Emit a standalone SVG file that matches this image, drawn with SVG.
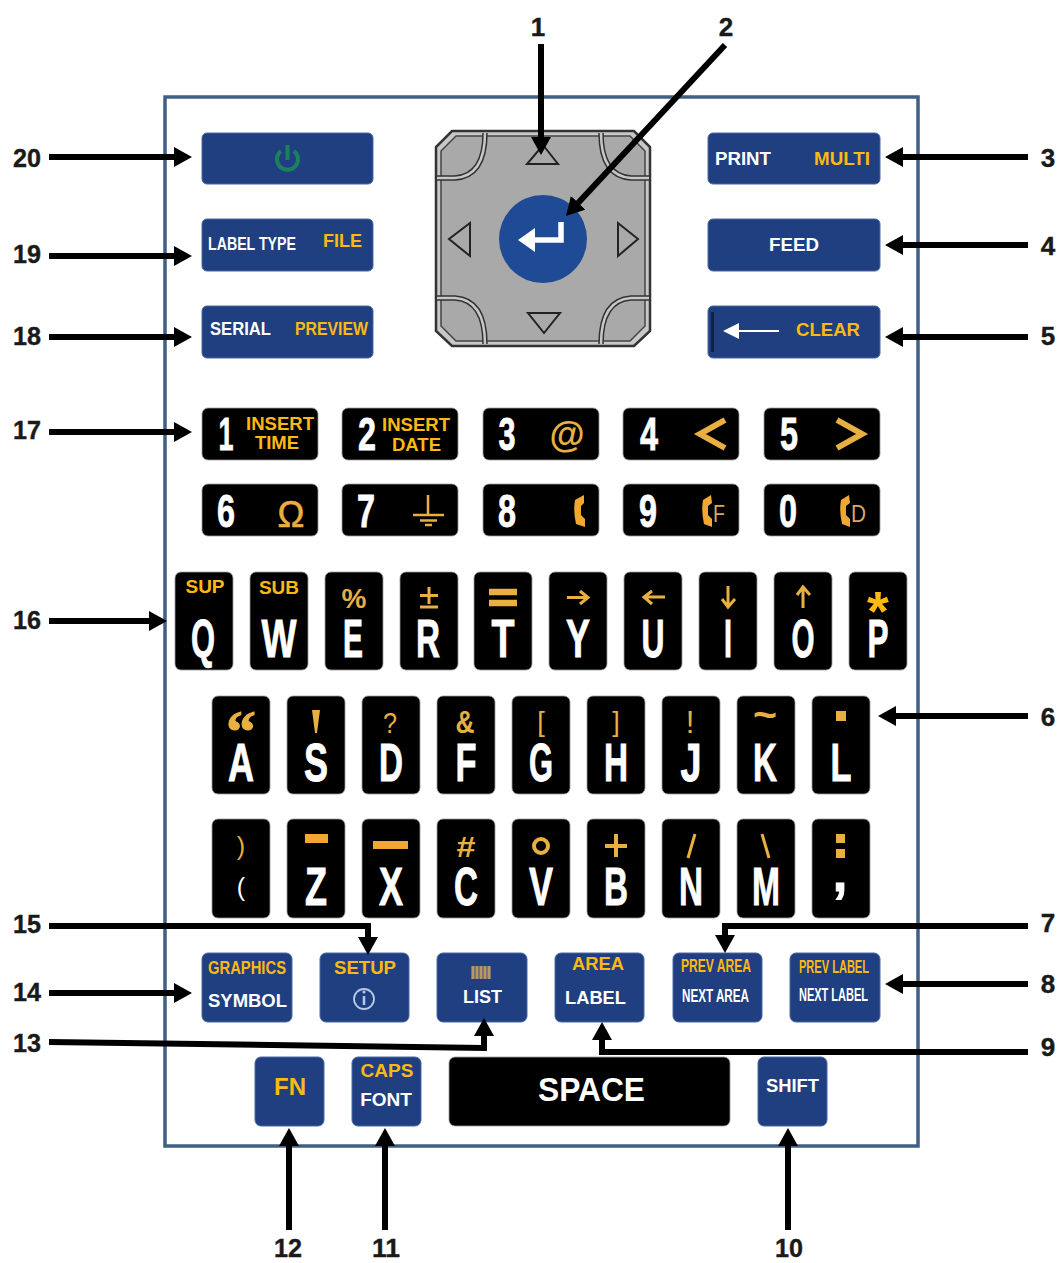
<svg xmlns="http://www.w3.org/2000/svg" width="1059" height="1263" viewBox="0 0 1059 1263">
<style>
text{font-family:"Liberation Sans",Arial,sans-serif;font-weight:700}
.b{fill:#1f3f80;stroke:#4a68a5;stroke-width:1}
.k{fill:#000;stroke:#999;stroke-width:.8}
.w{fill:#fff}.y{fill:#fdb913}.g{fill:#e8b040}
.c{text-anchor:middle}
.n{font-size:26px;fill:#1a1a1a;text-anchor:middle;stroke:#1a1a1a;stroke-width:.4}
.L{font-size:54px;fill:#fff;stroke:#fff;stroke-width:.9;text-anchor:middle}
.D{font-size:46px;fill:#fff;stroke:#fff;stroke-width:.8;text-anchor:middle}
.s{font-size:19px}
.t{font-size:19px}
.o{fill:none;stroke:#e8b040}
.a{fill:none;stroke:#000;stroke-width:6}
.r{font-weight:400}
</style>
<defs>
<marker id="h" markerUnits="userSpaceOnUse" markerWidth="18" markerHeight="20" refX="4" refY="10" orient="auto"><path d="M0 0L18 10L0 20Z" fill="#000"/></marker>
</defs>
<rect width="1059" height="1263" fill="#fff"/>
<rect id="frame" x="165" y="97" width="753" height="1049" fill="none" stroke="#3f5f85" stroke-width="3.5"/>

<g id="dpad">
<path d="M452 131H634L650 147V331L634 346H452L436 331V147Z" fill="#c8c8c8" stroke="#333" stroke-width="2.5"/>
<path d="M456 136H630L645 151V326L630 341H456L441 326V151Z" fill="#a9a9a9" stroke="#444" stroke-width="1.5"/>
<path d="M437 178H455Q485 176 485 133M649 178H631Q601 176 601 133M437 298H455Q485 300 485 344M649 298H631Q601 300 601 344" fill="none" stroke="#333" stroke-width="5.5"/>
<path d="M437 178H455Q485 176 485 133M649 178H631Q601 176 601 133M437 298H455Q485 300 485 344M649 298H631Q601 300 601 344" fill="none" stroke="#c8c8c8" stroke-width="2.500"/>
<path d="M543 145L558 164H527ZM528 313H560L544 333ZM470 223V256L449 239ZM618 223V256L638 239Z" fill="none" stroke="#222" stroke-width="2"/>
<circle cx="543" cy="239" r="44" fill="#1f4a96"/>
<path d="M561 222V240H527" fill="none" stroke="#fff" stroke-width="5.500"/>
<path d="M518 240L535 228V252Z" fill="#fff"/>
</g>

<g id="key-power"><rect class="b" x="202" y="133" width="171" height="51" rx="5"/><path d="M281 151A10.500 10.500 0 1 0 294 151" fill="none" stroke="#1c8060" stroke-width="4"/><path d="M287.500 145V160" stroke="#1c8060" stroke-width="4"/></g>
<g id="key-labeltype"><rect class="b" x="202" y="219" width="171" height="52" rx="5"/><text class="w s" x="208" y="250" textLength="88" lengthAdjust="spacingAndGlyphs">LABEL TYPE</text><text class="y s" x="323" y="247" textLength="39" lengthAdjust="spacingAndGlyphs">FILE</text></g>
<g id="key-serial"><rect class="b" x="202" y="306" width="171" height="52" rx="5"/><text class="w s" x="210" y="335" textLength="61" lengthAdjust="spacingAndGlyphs">SERIAL</text><text class="y s" x="295" y="335" textLength="73" lengthAdjust="spacingAndGlyphs">PREVIEW</text></g>
<g id="key-print"><rect class="b" x="708" y="133" width="172" height="51" rx="5"/><text class="w s" x="715" y="165" textLength="56" lengthAdjust="spacingAndGlyphs">PRINT</text><text class="y s" x="814" y="165" textLength="56" lengthAdjust="spacingAndGlyphs">MULTI</text></g>
<g id="key-feed"><rect class="b" x="708" y="219" width="172" height="52" rx="5"/><text class="w s" x="769" y="251" textLength="50" lengthAdjust="spacingAndGlyphs">FEED</text></g>
<g id="key-clear"><rect class="b" x="708" y="306" width="172" height="52" rx="5"/><rect x="711" y="312" width="3" height="40" fill="#0f2240"/><path d="M735 331H779" stroke="#fff" stroke-width="2"/><path d="M723 331L739 323V339Z" fill="#fff"/><text class="y s" x="796" y="336" textLength="64" lengthAdjust="spacingAndGlyphs">CLEAR</text></g>

<g id="key-1"><rect class="k" x="202" y="408" width="116" height="52" rx="6"/><text class="D" x="226" y="450" textLength="15" lengthAdjust="spacingAndGlyphs">1</text><text class="y t" x="246" y="430" textLength="68" lengthAdjust="spacingAndGlyphs">INSERT</text><text class="y t" x="255" y="449" textLength="44" lengthAdjust="spacingAndGlyphs">TIME</text></g>
<g id="key-2"><rect class="k" x="342" y="408" width="116" height="52" rx="6"/><text class="D" x="367" y="450" textLength="18" lengthAdjust="spacingAndGlyphs">2</text><text class="y t" x="382" y="431" textLength="68" lengthAdjust="spacingAndGlyphs">INSERT</text><text class="y t" x="392" y="451" textLength="49" lengthAdjust="spacingAndGlyphs">DATE</text></g>
<g id="key-3"><rect class="k" x="483" y="408" width="116" height="52" rx="6"/><text class="D" x="507" y="450" textLength="17" lengthAdjust="spacingAndGlyphs">3</text><text class="g c" x="567" y="447" font-size="36">@</text></g>
<g id="key-4"><rect class="k" x="623" y="408" width="116" height="52" rx="6"/><text class="D" x="649" y="450" textLength="18" lengthAdjust="spacingAndGlyphs">4</text><path class="o" stroke-width="6" d="M725 420L700 434L725 448"/></g>
<g id="key-5"><rect class="k" x="764" y="408" width="116" height="52" rx="6"/><text class="D" x="789" y="450" textLength="18" lengthAdjust="spacingAndGlyphs">5</text><path class="o" stroke-width="6" d="M837 420L862 434L837 448"/></g>

<g id="key-6"><rect class="k" x="202" y="484" width="116" height="52" rx="6"/><text class="D" x="226" y="527" textLength="18" lengthAdjust="spacingAndGlyphs">6</text><text class="g c r" x="291" y="527" font-size="36" stroke="#e8b040" stroke-width=".6">Ω</text></g>
<g id="key-7"><rect class="k" x="342" y="484" width="116" height="52" rx="6"/><text class="D" x="366" y="527" textLength="18" lengthAdjust="spacingAndGlyphs">7</text><path class="o" stroke-width="2.500" d="M428 495V515M413 515H444M420 520.500H437M425 525H432"/></g>
<g id="key-8"><rect class="k" x="483" y="484" width="116" height="52" rx="6"/><text class="D" x="507" y="527" textLength="18" lengthAdjust="spacingAndGlyphs">8</text><path d="M584 495L575 500Q573 511 576 524L585 527L585 519L581 515V506L584 503Z" fill="#f0a830"/></g>
<g id="key-9"><rect class="k" x="623" y="484" width="116" height="52" rx="6"/><text class="D" x="648" y="527" textLength="18" lengthAdjust="spacingAndGlyphs">9</text><path d="M711 495L703 500Q701 511 704 524L712 527L712 519L708 515V506L712 503Z" fill="#f0a830"/><text class="r" x="713" y="522" font-size="24" fill="#d8a860" textLength="12" lengthAdjust="spacingAndGlyphs">F</text></g>
<g id="key-0"><rect class="k" x="764" y="484" width="116" height="52" rx="6"/><text class="D" x="788" y="527" textLength="18" lengthAdjust="spacingAndGlyphs">0</text><path d="M849 495L841 500Q839 511 842 524L850 527L850 519L846 515V506L850 503Z" fill="#f0a830"/><text class="r" x="851" y="522" font-size="24" fill="#d8a860" textLength="15" lengthAdjust="spacingAndGlyphs">D</text></g>

<g id="key-q"><rect class="k" x="175" y="572" width="58" height="98" rx="6"/><text class="y s c" x="205" y="593">SUP</text><text class="L" x="203" y="657" textLength="24" lengthAdjust="spacingAndGlyphs">Q</text></g>
<g id="key-w"><rect class="k" x="250" y="572" width="58" height="98" rx="6"/><text class="y s c" x="279" y="594">SUB</text><text class="L" x="279" y="657" textLength="35" lengthAdjust="spacingAndGlyphs">W</text></g>
<g id="key-e"><rect class="k" x="325" y="572" width="58" height="98" rx="6"/><text class="g c" x="354" y="608" font-size="28">%</text><text class="L" x="353" y="657" textLength="20" lengthAdjust="spacingAndGlyphs">E</text></g>
<g id="key-r"><rect class="k" x="400" y="572" width="58" height="98" rx="6"/><path class="o" stroke-width="3" d="M429 587V604M420 595.500H438M420 607H438"/><text class="L" x="428" y="657" textLength="24" lengthAdjust="spacingAndGlyphs">R</text></g>
<g id="key-t"><rect class="k" x="474" y="572" width="58" height="98" rx="6"/><path class="o" stroke-width="6.500" d="M489 592H517M489 603H517"/><text class="L" x="503" y="657" textLength="23" lengthAdjust="spacingAndGlyphs">T</text></g>
<g id="key-y"><rect class="k" x="549" y="572" width="58" height="98" rx="6"/><path class="o" stroke-width="3" d="M567 597.500H586M580 591L588 597.500L580 604"/><text class="L" x="578" y="657" textLength="24" lengthAdjust="spacingAndGlyphs">Y</text></g>
<g id="key-u"><rect class="k" x="624" y="572" width="58" height="98" rx="6"/><path class="o" stroke-width="3" d="M665 597H646M652 591L644 597L652 604"/><text class="L" x="653" y="657" textLength="23" lengthAdjust="spacingAndGlyphs">U</text></g>
<g id="key-i"><rect class="k" x="699" y="572" width="58" height="98" rx="6"/><path class="o" stroke-width="3" d="M728 586V605M722 599L728 607L735 599"/><text class="L" x="728" y="657" textLength="8" lengthAdjust="spacingAndGlyphs">I</text></g>
<g id="key-o"><rect class="k" x="774" y="572" width="58" height="98" rx="6"/><path class="o" stroke-width="3" d="M803 608V589M797 595L803 587L810 595"/><text class="L" x="803" y="657" textLength="23" lengthAdjust="spacingAndGlyphs">O</text></g>
<g id="key-p"><rect class="k" x="849" y="572" width="58" height="98" rx="6"/><text class="y c" x="878" y="630" font-size="56">*</text><text class="L" x="878" y="657" textLength="21" lengthAdjust="spacingAndGlyphs">P</text></g>

<g id="key-a"><rect class="k" x="212" y="696" width="58" height="98" rx="6"/><text class="g c" x="241" y="752" font-size="60" stroke="#e8b040" stroke-width="1" style="font-family:'Liberation Serif',serif">“</text><text class="L" x="241" y="781" textLength="26" lengthAdjust="spacingAndGlyphs">A</text></g>
<g id="key-s"><rect class="k" x="287" y="696" width="58" height="98" rx="6"/><path d="M312 710H320L317 733H315Z" fill="#e8b040"/><text class="L" x="316" y="781" textLength="24" lengthAdjust="spacingAndGlyphs">S</text></g>
<g id="key-d"><rect class="k" x="362" y="696" width="58" height="98" rx="6"/><text class="g c r" x="390" y="733" font-size="30" textLength="14" lengthAdjust="spacingAndGlyphs">?</text><text class="L" x="391" y="781" textLength="24" lengthAdjust="spacingAndGlyphs">D</text></g>
<g id="key-f"><rect class="k" x="437" y="696" width="58" height="98" rx="6"/><text class="g c" x="465" y="733" font-size="31" textLength="19" lengthAdjust="spacingAndGlyphs">&amp;</text><text class="L" x="466" y="781" textLength="21" lengthAdjust="spacingAndGlyphs">F</text></g>
<g id="key-g"><rect class="k" x="512" y="696" width="58" height="98" rx="6"/><text class="g c r" x="541" y="731" font-size="27">[</text><text class="L" x="541" y="781" textLength="24" lengthAdjust="spacingAndGlyphs">G</text></g>
<g id="key-h"><rect class="k" x="587" y="696" width="58" height="98" rx="6"/><text class="g c r" x="616" y="731" font-size="27">]</text><text class="L" x="616" y="781" textLength="24" lengthAdjust="spacingAndGlyphs">H</text></g>
<g id="key-j"><rect class="k" x="662" y="696" width="58" height="98" rx="6"/><text class="g c r" x="690" y="733" font-size="31">!</text><text class="L" x="691" y="781" textLength="21" lengthAdjust="spacingAndGlyphs">J</text></g>
<g id="key-k"><rect class="k" x="737" y="696" width="58" height="98" rx="6"/><text class="g c" x="765" y="728" font-size="38" textLength="24" lengthAdjust="spacingAndGlyphs">~</text><text class="L" x="765" y="781" textLength="24" lengthAdjust="spacingAndGlyphs">K</text></g>
<g id="key-l"><rect class="k" x="812" y="696" width="58" height="98" rx="6"/><rect x="836" y="711" width="10" height="10" fill="#e8b040"/><text class="L" x="841" y="781" textLength="21" lengthAdjust="spacingAndGlyphs">L</text></g>

<g id="key-paren"><rect class="k" x="212" y="819" width="58" height="99" rx="6"/><text class="g c r" x="241" y="855" font-size="25">)</text><text class="w c r" x="241" y="896" font-size="25">(</text></g>
<g id="key-z"><rect class="k" x="287" y="819" width="58" height="99" rx="6"/><rect x="305" y="834" width="23" height="9" fill="#f0a830"/><text class="L" x="316" y="905" textLength="22" lengthAdjust="spacingAndGlyphs">Z</text></g>
<g id="key-x"><rect class="k" x="362" y="819" width="58" height="99" rx="6"/><rect x="373" y="841" width="35" height="8" fill="#f0a830"/><text class="L" x="391" y="905" textLength="24" lengthAdjust="spacingAndGlyphs">X</text></g>
<g id="key-c"><rect class="k" x="437" y="819" width="58" height="99" rx="6"/><text class="g c" x="466" y="857" font-size="30" textLength="19" lengthAdjust="spacingAndGlyphs">#</text><text class="L" x="466" y="905" textLength="24" lengthAdjust="spacingAndGlyphs">C</text></g>
<g id="key-v"><rect class="k" x="512" y="819" width="58" height="99" rx="6"/><circle class="o" stroke-width="4" cx="541" cy="846" r="7"/><text class="L" x="541" y="905" textLength="24" lengthAdjust="spacingAndGlyphs">V</text></g>
<g id="key-b"><rect class="k" x="587" y="819" width="58" height="99" rx="6"/><path class="o" stroke-width="4" d="M616 834V857M605 846H627"/><text class="L" x="616" y="905" textLength="24" lengthAdjust="spacingAndGlyphs">B</text></g>
<g id="key-n"><rect class="k" x="662" y="819" width="58" height="99" rx="6"/><path class="o" stroke-width="3" d="M695 834L688 858"/><text class="L" x="691" y="905" textLength="24" lengthAdjust="spacingAndGlyphs">N</text></g>
<g id="key-m"><rect class="k" x="737" y="819" width="58" height="99" rx="6"/><path class="o" stroke-width="3" d="M762 834L769 858"/><text class="L" x="766" y="905" textLength="28" lengthAdjust="spacingAndGlyphs">M</text></g>
<g id="key-semi"><rect class="k" x="812" y="819" width="58" height="99" rx="6"/><rect x="836" y="834" width="9" height="9" fill="#e8b040"/><rect x="836" y="849" width="9" height="9" fill="#e8b040"/><text class="L" x="840" y="891">,</text></g>

<g id="key-graphics"><rect class="b" x="202" y="953" width="90" height="69" rx="6"/><text class="y s" x="208" y="974" textLength="78" lengthAdjust="spacingAndGlyphs">GRAPHICS</text><text class="w s" x="208" y="1007" textLength="79" lengthAdjust="spacingAndGlyphs">SYMBOL</text></g>
<g id="key-setup"><rect class="b" x="320" y="953" width="89" height="69" rx="6"/><text class="y s" x="334" y="974" textLength="62" lengthAdjust="spacingAndGlyphs">SETUP</text><circle cx="364" cy="999" r="10" fill="none" stroke="#b8c8e8" stroke-width="1.800"/><path d="M364 996V1005" stroke="#b8c8e8" stroke-width="2.500"/><circle cx="364" cy="992" r="1.500" fill="#b8c8e8"/></g>
<g id="key-list"><rect class="b" x="437" y="953" width="90" height="69" rx="6"/><path d="M473 966V979M477 966V979M481 966V979M485 966V979M489 966V979" stroke="#b89868" stroke-width="3.200"/><text class="w s" x="463" y="1003" textLength="39" lengthAdjust="spacingAndGlyphs">LIST</text></g>
<g id="key-area"><rect class="b" x="555" y="953" width="89" height="69" rx="6"/><text class="y s" x="572" y="970" textLength="52" lengthAdjust="spacingAndGlyphs">AREA</text><text class="w s" x="565" y="1004" textLength="61" lengthAdjust="spacingAndGlyphs">LABEL</text></g>
<g id="key-prevarea"><rect class="b" x="673" y="953" width="89" height="69" rx="6"/><text class="y s" x="681" y="972" textLength="70" lengthAdjust="spacingAndGlyphs">PREV AREA</text><text class="w s" x="682" y="1002" textLength="67" lengthAdjust="spacingAndGlyphs">NEXT AREA</text></g>
<g id="key-prevlabel"><rect class="b" x="790" y="953" width="90" height="69" rx="6"/><text class="y s" x="799" y="973" textLength="70" lengthAdjust="spacingAndGlyphs">PREV LABEL</text><text class="w s" x="799" y="1001" textLength="69" lengthAdjust="spacingAndGlyphs">NEXT LABEL</text></g>

<g id="key-fn"><rect class="b" x="255" y="1057" width="69" height="69" rx="6"/><text class="y c" x="290" y="1095" font-size="24">FN</text></g>
<g id="key-caps"><rect class="b" x="352" y="1057" width="69" height="69" rx="6"/><text class="y s c" x="387" y="1077">CAPS</text><text class="w s c" x="386" y="1106">FONT</text></g>
<g id="key-space"><rect class="k" x="449" y="1057" width="281" height="69" rx="6"/><text class="w" x="538" y="1101" font-size="33" textLength="107" lengthAdjust="spacingAndGlyphs">SPACE</text></g>
<g id="key-shift"><rect class="b" x="758" y="1057" width="69" height="69" rx="6"/><text class="w s" x="766" y="1092" textLength="53" lengthAdjust="spacingAndGlyphs">SHIFT</text></g>

<g id="connectors">
<path class="a" marker-end="url(#h)" d="M541 44V141"/>
<path class="a" marker-end="url(#h)" d="M725 45L575.500 205.700"/>
<path class="a" marker-end="url(#h)" d="M49 157H178"/>
<path class="a" marker-end="url(#h)" d="M49 256H178"/>
<path class="a" marker-end="url(#h)" d="M49 337H178"/>
<path class="a" marker-end="url(#h)" d="M49 432H178"/>
<path class="a" marker-end="url(#h)" d="M49 621H153"/>
<path class="a" marker-end="url(#h)" d="M49 993H178"/>
<path class="a" marker-end="url(#h)" d="M1028 157H899"/>
<path class="a" marker-end="url(#h)" d="M1028 245H899"/>
<path class="a" marker-end="url(#h)" d="M1028 337H899"/>
<path class="a" marker-end="url(#h)" d="M1028 716H892"/>
<path class="a" marker-end="url(#h)" d="M1028 984H899"/>
<path class="a" marker-end="url(#h)" d="M49 926H368V941"/>
<path class="a" marker-end="url(#h)" d="M1028 926H725V939"/>
<path class="a" marker-end="url(#h)" d="M49 1042L484 1048V1032"/>
<path class="a" marker-end="url(#h)" d="M1028 1052H602V1036"/>
<path class="a" marker-end="url(#h)" d="M289 1230V1142"/>
<path class="a" marker-end="url(#h)" d="M385 1230V1142"/>
<path class="a" marker-end="url(#h)" d="M788 1230V1142"/>
</g>

<g id="labels">
<text class="n" x="538" y="36">1</text><text class="n" x="726" y="36">2</text>
<text class="n" x="1048" y="167">3</text><text class="n" x="1048" y="255">4</text><text class="n" x="1048" y="345">5</text>
<text class="n" x="1048" y="726">6</text><text class="n" x="1048" y="932">7</text><text class="n" x="1048" y="993">8</text><text class="n" x="1048" y="1056">9</text>
<text class="n" x="789" y="1257" textLength="28" lengthAdjust="spacingAndGlyphs">10</text><text class="n" x="386" y="1257" textLength="28" lengthAdjust="spacingAndGlyphs">11</text><text class="n" x="288" y="1257" textLength="28" lengthAdjust="spacingAndGlyphs">12</text>
<text class="n" x="27" y="1052" textLength="28" lengthAdjust="spacingAndGlyphs">13</text><text class="n" x="27" y="1001" textLength="28" lengthAdjust="spacingAndGlyphs">14</text><text class="n" x="27" y="933" textLength="28" lengthAdjust="spacingAndGlyphs">15</text>
<text class="n" x="27" y="629" textLength="28" lengthAdjust="spacingAndGlyphs">16</text><text class="n" x="27" y="439" textLength="28" lengthAdjust="spacingAndGlyphs">17</text><text class="n" x="27" y="345" textLength="28" lengthAdjust="spacingAndGlyphs">18</text><text class="n" x="27" y="263" textLength="28" lengthAdjust="spacingAndGlyphs">19</text><text class="n" x="27" y="167" textLength="28" lengthAdjust="spacingAndGlyphs">20</text>
</g>
</svg>
